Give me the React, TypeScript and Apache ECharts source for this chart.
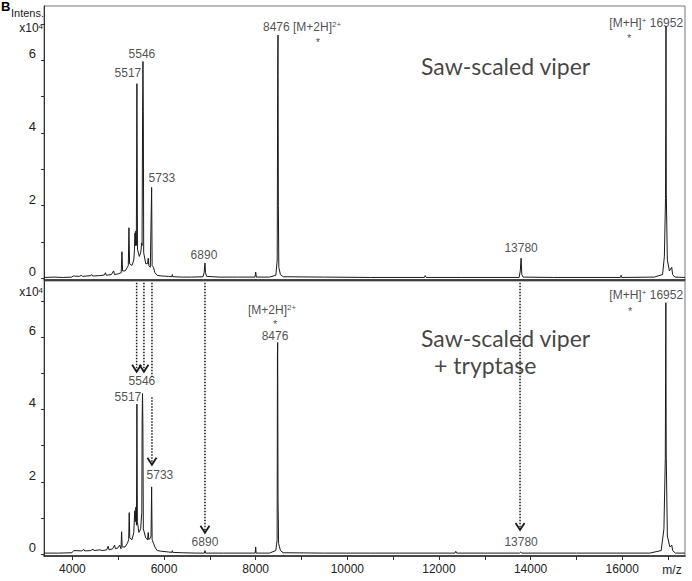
import React, { useEffect, useRef } from "react";
import * as echarts from "echarts";

// ---- axes ----
const X_MIN = 3380;
const X_MAX = 17370;
const xTickLabels = [4000, 6000, 8000, 10000, 12000, 14000, 16000];
const xTicks = [4000, 5000, 6000, 7000, 8000, 9000, 10000, 11000, 12000, 13000, 14000, 15000, 16000, 17000];
const yTickLabels = [0, 2, 4, 6];
const yTicks = [0, 1, 2, 3, 4, 5, 6, 7];

// ---- spectra: [m/z, intensity x10^4] ----
const topSpectrum: [number, number][] = [
  [3380, 0.02], [3600, 0.03], [3800, 0.02], [3980, 0.03], [4020, 0.06], [4150, 0.05], [4200, 0.08], [4220, 0.05],
  [4400, 0.07], [4420, 0.1], [4440, 0.06], [4600, 0.07], [4700, 0.09], [4720, 0.15], [4740, 0.08], [4850, 0.1],
  [4900, 0.2], [4920, 0.1], [5000, 0.12], [5065, 0.15], [5081, 0.73], [5095, 0.2], [5150, 0.2], [5200, 0.3],
  [5220, 0.35], [5234, 1.39], [5248, 0.4], [5300, 0.35], [5340, 0.5], [5355, 0.8], [5365, 1.25], [5375, 0.9],
  [5385, 1.3], [5395, 0.9], [5408, 5.36], [5420, 0.8], [5460, 0.6], [5490, 0.7], [5500, 0.8], [5510, 0.97],
  [5520, 0.9], [5532, 4.6], [5540, 5.97], [5548, 4.5], [5556, 0.7], [5600, 0.4], [5640, 0.4], [5655, 0.55],
  [5668, 0.35], [5700, 0.3], [5729, 2.5], [5740, 0.35], [5770, 0.3], [5800, 0.15], [5850, 0.08], [5950, 0.06],
  [6100, 0.05], [6170, 0.04], [6180, 0.1], [6190, 0.04], [6400, 0.03], [6600, 0.03], [6850, 0.04], [6875, 0.15],
  [6893, 0.42], [6905, 0.15], [6930, 0.05], [7200, 0.03], [7600, 0.03], [7985, 0.03], [8000, 0.17], [8015, 0.03],
  [8300, 0.03], [8440, 0.08], [8470, 0.5], [8480, 5.56], [8487, 6.7], [8495, 2.0], [8505, 0.3], [8540, 0.1],
  [8600, 0.04], [9500, 0.03], [10500, 0.02], [11680, 0.02], [11700, 0.07], [11720, 0.02], [12500, 0.02],
  [13750, 0.02], [13775, 0.2], [13793, 0.55], [13808, 0.1], [13840, 0.03], [14500, 0.02], [15960, 0.02],
  [15976, 0.08], [15990, 0.02], [16700, 0.03], [16880, 0.1], [16920, 0.6], [16945, 2.2], [16955, 6.94],
  [16962, 2.3], [16985, 0.5], [17030, 0.2], [17080, 0.3], [17100, 0.1], [17150, 0.03], [17370, 0.02],
];

const bottomSpectrum: [number, number][] = [
  [3380, 0.03], [3700, 0.03], [3990, 0.04], [4030, 0.1], [4200, 0.09], [4250, 0.13], [4270, 0.09], [4400, 0.1],
  [4450, 0.14], [4470, 0.1], [4600, 0.12], [4650, 0.1], [4750, 0.12], [4780, 0.22], [4800, 0.12], [4880, 0.15],
  [4920, 0.25], [4940, 0.15], [5000, 0.18], [5030, 0.25], [5060, 0.15], [5074, 0.62], [5086, 0.2], [5150, 0.2],
  [5200, 0.3], [5228, 0.4], [5240, 1.15], [5252, 0.45], [5300, 0.4], [5340, 0.6], [5360, 1.2], [5372, 0.9],
  [5385, 1.3], [5398, 0.8], [5408, 4.15], [5418, 0.9], [5450, 0.6], [5490, 0.7], [5505, 1.0], [5515, 1.15],
  [5522, 3.7], [5530, 4.44], [5538, 3.6], [5548, 0.7], [5600, 0.45], [5640, 0.4], [5655, 0.6], [5668, 0.4],
  [5700, 0.45], [5716, 0.5], [5729, 1.86], [5740, 0.4], [5770, 0.3], [5800, 0.2], [5850, 0.1], [5950, 0.08],
  [6100, 0.06], [6170, 0.05], [6180, 0.1], [6190, 0.05], [6400, 0.04], [6700, 0.03], [6880, 0.03], [6893, 0.1],
  [6906, 0.03], [7300, 0.03], [7700, 0.03], [7990, 0.03], [8000, 0.2], [8010, 0.03], [8300, 0.03], [8440, 0.1],
  [8468, 0.4], [8475, 5.5], [8480, 5.85], [8488, 1.5], [8500, 0.3], [8540, 0.1], [8600, 0.04], [9500, 0.03],
  [10500, 0.03], [12350, 0.03], [12368, 0.08], [12385, 0.03], [13760, 0.03], [13786, 0.06], [13810, 0.03],
  [15000, 0.03], [16600, 0.03], [16850, 0.1], [16910, 0.7], [16940, 2.64], [16952, 6.95], [16960, 2.8],
  [16985, 0.5], [17040, 0.2], [17082, 0.25], [17100, 0.1], [17160, 0.03], [17370, 0.03],
];

// ---- annotations: [text, m/z, intensity, align, kind] ----
type Ann = [string, number, number, string, string];
const topAnnotations: Ann[] = [
  ["5517", 5212, 5.65, "center", "peak"],
  ["5546", 5517, 6.18, "center", "peak"],
  ["5733", 5954, 2.76, "center", "peak"],
  ["6890", 6871, 0.64, "center", "peak"],
  ["8476 [M+2H]{sup|2+}", 8159, 6.92, "left", "peak"],
  ["*", 9360, 6.5, "center", "star"],
  ["[M+H]{sup|+} 16952", 17328, 7.03, "right", "peak"],
  ["*", 16151, 6.63, "center", "star"],
  ["13780", 13793, 0.83, "center", "peak"],
  ["Saw-scaled viper", 11607, 5.85, "left", "title"],
];
const bottomAnnotations: Ann[] = [
  ["[M+2H]{sup|2+}", 8357, 6.74, "center", "peak"],
  ["*", 8422, 6.36, "center", "star"],
  ["8476", 8422, 6.04, "center", "peak"],
  ["Saw-scaled viper", 11607, 5.97, "left", "title"],
  ["+ tryptase", 11893, 5.22, "left", "title"],
  ["5546", 5517, 4.79, "center", "peak"],
  ["5517", 5212, 4.35, "center", "peak"],
  ["5733", 5910, 2.19, "center", "peak"],
  ["6890", 6893, 0.34, "center", "peak"],
  ["13780", 13793, 0.34, "center", "peak"],
  ["[M+H]{sup|+} 16952", 17328, 7.16, "right", "peak"],
  ["*", 16172, 6.72, "center", "star"],
];

// ---- dotted arrows (bottom panel): [m/z, from, to, head] ----
const arrows: [number, number, number, number][] = [
  [5402, 7.5, 5.04, 1],
  [5561, 7.5, 5.04, 1],
  [5736, 7.5, 4.9, 0],
  [5736, 4.34, 2.47, 1],
  [6893, 7.5, 0.59, 1],
  [13770, 7.5, 0.67, 1],
];

const FONT = "Liberation Sans";
const INK = "#1a1a1a";

const kindStyles: Record<string, any> = {
  peak: { fontSize: 12, color: "#222", fontFamily: FONT, lineHeight: 14 },
  star: { fontSize: 11, color: "#222", fontFamily: FONT, lineHeight: 7 },
  title: { fontSize: 23, color: "#111", fontFamily: "Lato", lineHeight: 26 },
};

const toItems = (list: Ann[]) =>
  list.map(([text, mz, v, align, kind]) => ({
    value: [mz, v],
    label: { show: true, formatter: text, align, verticalAlign: "middle", ...kindStyles[kind] },
  }));

const rich = {
  sup: { fontSize: 8, verticalAlign: "top", lineHeight: 9, color: "#222", fontFamily: FONT },
};

export default function App() {
  const ref = useRef<HTMLDivElement>(null);
  useEffect(() => {
    if (!ref.current) return;
    const chart = echarts.init(ref.current, undefined, { renderer: "svg" });
    const xBase = {
      type: "value",
      min: X_MIN,
      max: X_MAX,
      splitLine: { show: false },
      axisLine: { show: true, onZero: false, lineStyle: { color: "#222", width: 1.5 } },
    };
    const yBase = {
      type: "value",
      splitLine: { show: false },
      axisLine: { show: true, onZero: false, lineStyle: { color: "#333", width: 1 } },
      axisTick: { show: true, inside: false, length: 3, customValues: yTicks, lineStyle: { color: "#333" } },
      axisLabel: {
        customValues: yTickLabels,
        fontSize: 13,
        color: "#222",
        fontFamily: FONT,
        margin: 8,
        verticalAlign: "bottom",
      },
    };
    const annSeries = (idx: number, list: Ann[]) => ({
      type: "scatter",
      xAxisIndex: idx,
      yAxisIndex: idx,
      symbol: "circle",
      symbolSize: 1,
      itemStyle: { color: "rgba(0,0,0,0)" },
      silent: true,
      clip: false,
      z: 5,
      label: { show: true, position: "inside", rich },
      emphasis: { disabled: true },
      data: toItems(list),
    });
    const option: any = {
      animation: false,
      backgroundColor: "#fff",
      textStyle: { fontFamily: FONT },
      grid: [
        { left: 44, right: 7, top: 6, height: 274, show: true, borderColor: "#777", borderWidth: 1 },
        { left: 44, right: 7, top: 281, height: 275, show: true, borderColor: "#777", borderWidth: 1 },
      ],
      xAxis: [
        { ...xBase, gridIndex: 0, axisTick: { show: false }, axisLabel: { show: false } },
        {
          ...xBase,
          gridIndex: 1,
          axisTick: { show: true, inside: false, length: 4, customValues: xTicks, lineStyle: { color: "#333" } },
          axisLabel: {
            customValues: xTickLabels,
            formatter: (v: number) => String(v),
            fontSize: 12,
            color: "#222",
            fontFamily: FONT,
            margin: 7,
          },
        },
      ],
      yAxis: [
        { ...yBase, gridIndex: 0, min: -0.05, max: 7.5 },
        { ...yBase, gridIndex: 1, min: -0.05, max: 7.55 },
      ],
      graphic: [
        { type: "text", left: 1, top: 0, style: { text: "B", font: "bold 13px " + FONT, fill: "#000" } },
        { type: "text", x: 44, y: 13, style: { text: "Intens.", font: "11px " + FONT, fill: "#222", align: "right", verticalAlign: "middle" } },
        {
          type: "text", x: 43, y: 28,
          style: { text: "x10{sup|4}", font: "12px " + FONT, fill: "#222", align: "right", verticalAlign: "middle", rich },
        },
        {
          type: "text", x: 43, y: 292,
          style: { text: "x10{sup|4}", font: "12px " + FONT, fill: "#222", align: "right", verticalAlign: "middle", rich },
        },
        { type: "text", x: 672, y: 570, style: { text: "m/z", font: "12px " + FONT, fill: "#222", align: "center", verticalAlign: "middle" } },
      ],
      series: [
        {
          type: "line", xAxisIndex: 0, yAxisIndex: 0, data: topSpectrum, showSymbol: false, silent: true,
          lineStyle: { color: INK, width: 1 },
        },
        {
          type: "line", xAxisIndex: 1, yAxisIndex: 1, data: bottomSpectrum, showSymbol: false, silent: true,
          lineStyle: { color: INK, width: 1 },
        },
        annSeries(0, topAnnotations),
        annSeries(1, bottomAnnotations),
        {
          type: "custom",
          xAxisIndex: 1,
          yAxisIndex: 1,
          silent: true,
          clip: false,
          z: 4,
          data: arrows,
          renderItem: (_p: any, api: any) => {
            const x = api.value(0);
            const p0 = api.coord([x, api.value(1)]);
            const p1 = api.coord([x, api.value(2)]);
            const children: any[] = [
              {
                type: "line",
                shape: { x1: p0[0], y1: p0[1], x2: p1[0], y2: p1[1] },
                style: { stroke: INK, lineWidth: 1.5, lineDash: [1.5, 1.5] },
              },
            ];
            if (api.value(3)) {
              children.push({
                type: "polyline",
                shape: { points: [[p1[0] - 4.5, p1[1] - 7], [p1[0], p1[1]], [p1[0] + 4.5, p1[1] - 7]] },
                style: { stroke: INK, lineWidth: 1.8, fill: "none" },
              });
            }
            return { type: "group", children };
          },
        },
      ],
    };
    chart.setOption(option);
    return () => chart.dispose();
  }, []);
  return (
    <div
      ref={ref}
      style={{ position: "fixed", left: 0, top: 0, width: 692, height: 581, background: "#fff" }}
    />
  );
}
